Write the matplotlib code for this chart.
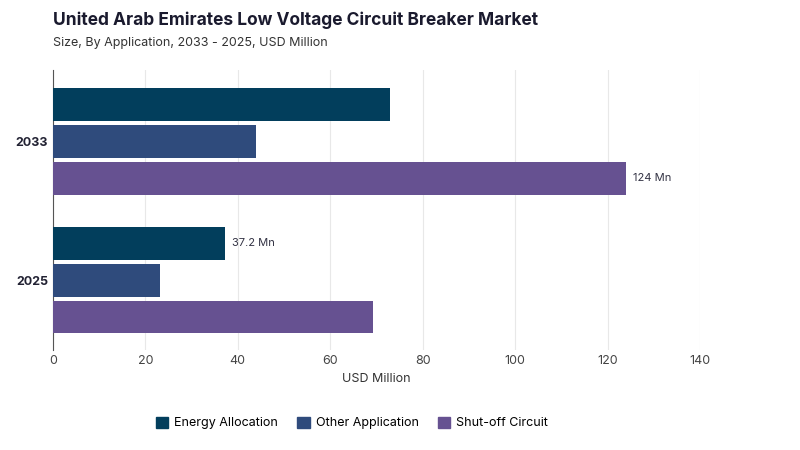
import matplotlib
matplotlib.use("Agg")
import matplotlib.pyplot as plt
from matplotlib.patches import FancyBboxPatch

years = ["2025", "2033"]
series = ["Energy Allocation", "Other Application", "Shut-off Circuit"]
values = {
    "Energy Allocation": [37.2, 72.9],
    "Other Application": [23.2, 43.9],
    "Shut-off Circuit": [69.2, 124.0],
}
colors = ["#023e5c", "#2f4b7c", "#665191"]

plt.rcParams['font.family'] = ['Inter', 'DejaVu Sans']
fig = plt.figure(figsize=(8, 4.5), dpi=100)
ax = fig.add_axes([0.066, 0.222, 0.809, 0.622])

off = 0.266
h = 0.237
for i, s in enumerate(series):
    for j, y in enumerate(years):
        yc = j - (i - 1) * off
        v = values[s][j]
        ax.barh(yc, v, height=h, color=colors[i], zorder=3)

ax.text(124.0 + 1.5, 1 - off, "124 Mn", va="center", fontsize=8, color="#333344")
ax.text(37.2 + 1.5, 0 + off, "37.2 Mn", va="center", fontsize=8, color="#333344")

ax.set_xlim(0, 140)
ax.set_ylim(-0.504, 0.51 + 1)
ax.set_yticks([0, 1])
ax.set_yticklabels(years, fontsize=9, fontweight="bold", color="#222233")
ax.set_xticks(range(0, 141, 20))
ax.tick_params(axis="x", labelsize=9, colors="#444444", length=0)
ax.tick_params(axis="y", length=0)
ax.grid(axis="x", color="#e8e8e8", linewidth=0.8, zorder=0)
for sp in ["top", "right", "bottom"]:
    ax.spines[sp].set_visible(False)
ax.spines["left"].set_color("#555555")
ax.set_xlabel("USD Million", fontsize=9, color="#333333")

fig.text(0.066, 0.945, "United Arab Emirates Low Voltage Circuit Breaker Market",
         fontsize=12.5, fontweight="bold", color="#1a1a2e")
fig.text(0.066, 0.897, "Size, By Application, 2033 - 2025, USD Million",
         fontsize=9, color="#333333")

handles = [plt.Rectangle((0, 0), 1, 1, color=c) for c in colors]
leg = fig.legend(handles, series, loc="center", bbox_to_anchor=(0.44, 0.06), ncol=3,
                 frameon=False, fontsize=9, handlelength=1.0, handleheight=1.0,
                 columnspacing=1.5, handletextpad=0.5)
fig.savefig("out.png", dpi=100)
